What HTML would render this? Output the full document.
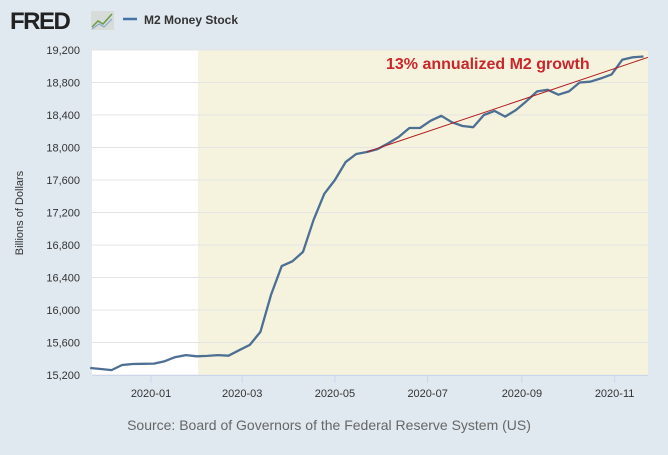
<!DOCTYPE html>
<html><head><meta charset="utf-8"><style>
html,body{margin:0;padding:0;background:#e1e9f0;}
svg text{font-family:"Liberation Sans",Arial,sans-serif;}
</style></head><body>
<svg id="chart" width="668" height="450" xmlns="http://www.w3.org/2000/svg">
<rect width="668" height="450" fill="#e1e9f0"/>
<g>
<text x="10" y="29" font-size="24" font-weight="bold" fill="#222" letter-spacing="-1.5">FRED</text>
<rect x="91" y="11" width="23" height="19" fill="#d8dcd8"/>
<polyline points="92,27 98,21 103,24 112,14" fill="none" stroke="#6a9a4a" stroke-width="1.5"/>
<polyline points="92,29 99,24 104,27 112,19" fill="none" stroke="#88aacc" stroke-width="1.2"/>
</g>
<g>
<line x1="123" y1="19" x2="137" y2="19" stroke="#4572a7" stroke-width="2.5"/>
<text x="144" y="24" font-size="12" font-weight="bold" fill="#333">M2 Money Stock</text>
</g>
<g id="plot"></g>
<text x="329" y="430" font-size="14" fill="#666" text-anchor="middle">Source: Board of Governors of the Federal Reserve System (US)</text>
<text transform="translate(23,213) rotate(-90)" font-size="11" fill="#333" text-anchor="middle">Billions of Dollars</text>
</svg>
<script>
const startDate = "2019-11-22";
const values = [15286,15274,15260,15323,15335,15338,15340,15370,15420,15445,15430,15435,15445,15438,15505,15570,15730,16190,16540,16600,16715,17110,17430,17600,17820,17920,17945,
17980,18050,18130,18240,18240,18330,18390,18310,18265,18250,18400,18450,18380,18460,18570,18690,18710,18650,18690,18800,18810,18850,18900,19080,19110,19120];
const yTicks = [15200,15600,16000,16400,16800,17200,17600,18000,18400,18800,19200];
const xTickLabels = ["2020-01","2020-03","2020-05","2020-07","2020-09","2020-11"];
const shadeStart = "2020-02-01";
const trendStartIndex = 26;
const trendEndValue = 19110;
const annotation = "13% annualized M2 growth";

const NS="http://www.w3.org/2000/svg";
const L=92,R=648,T=50,B=375;
const day=864e5, x0=Date.parse("2020-01-01");
const K=1.52;
const xs=d=>151+(Date.parse(d)-x0)/day*K;
const xt=t=>151+(t-x0)/day*K;
const ys=v=>B-(v-15200)/4000*(B-T);
const g=document.getElementById('plot');
function mk(tag,attrs,parent){const e=document.createElementNS(NS,tag);for(const k in attrs)e.setAttribute(k,attrs[k]);(parent||g).appendChild(e);return e;}
let e;
e=mk('rect',{x:L,y:T,width:R-L,height:B-T,fill:'#fff'});


const sx=xs(shadeStart);
e=mk('rect',{x:sx,y:T,width:R-sx,height:B-T,fill:'#f5f3dd'});


yTicks.forEach(v=>{
 const y=ys(v);
 e=mk('line',{x1:L,x2:R,y1:y,y2:y,stroke:'#e4e4e4','stroke-width':1});
 
 
 e=mk('text',{x:80,y:y+4,'font-size':11,fill:'#333','text-anchor':'end'});
 e.textContent=v.toLocaleString('en-US');
 
 
});
e=mk('line',{x1:L,x2:R,y1:B+0.5,y2:B+0.5,stroke:'#ccd6eb'});


xTickLabels.forEach(s=>{
 const x=xs(s+"-01");
 e=mk('line',{x1:x,x2:x,y1:B,y2:B+8,stroke:'#ccd6eb'});
 
 
 e=mk('text',{x:x,y:B+22,'font-size':11,fill:'#333','text-anchor':'middle'});
 e.textContent=s;
 
 
});
const t0=Date.parse(startDate);
const pts=values.map((v,i)=>[xt(t0+i*7*day),ys(v)]);
e=mk('polyline',{points:pts.map(p=>p[0].toFixed(1)+','+p[1].toFixed(1)).join(' '),fill:'none',stroke:'#4d6f94','stroke-width':2.3,'stroke-linejoin':'round'});


const tp=pts[trendStartIndex];
e=mk('line',{x1:tp[0],y1:tp[1],x2:R,y2:ys(trendEndValue),stroke:'#b01e23','stroke-width':1});


e=mk('text',{x:386,y:69,'font-size':16,'font-weight':'bold',fill:'#c9262b'});
e.textContent=annotation;


</script>
</body></html>
